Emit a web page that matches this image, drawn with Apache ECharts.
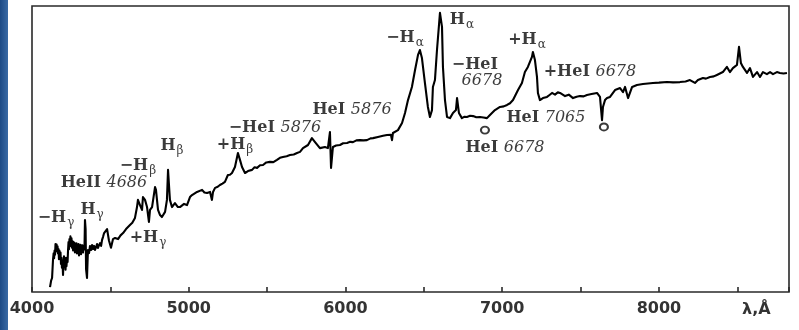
<!DOCTYPE html>
<html>
<head>
<meta charset="utf-8">
<script src="https://cdn.jsdelivr.net/npm/echarts@6/dist/echarts.min.js"></script>
<style>
  html, body { margin: 0; padding: 0; background: #fff; }
  #chart { width: 799px; height: 330px; }
</style>
</head>
<body>
<div id="chart"></div>
<script>
// Spectrum: wavelength (Å) and relative flux
const wavelength = [
  4115, 4122, 4128, 4134, 4138, 4141, 4144, 4147, 4150, 4153, 4157, 4160, 4163, 4166, 4169,
  4172, 4175, 4179, 4182, 4185, 4188, 4191, 4194, 4198, 4201, 4204, 4207, 4211, 4214, 4217,
  4220, 4223, 4227, 4230, 4233, 4236, 4239, 4242, 4245, 4249, 4252, 4255, 4258, 4262, 4265,
  4268, 4271, 4274, 4277, 4281, 4284, 4287, 4290, 4294, 4297, 4300, 4303, 4306, 4310, 4313,
  4316, 4319, 4322, 4325, 4329, 4332, 4335, 4338, 4342, 4345, 4351, 4357, 4364, 4370, 4377,
  4383, 4389, 4396, 4402, 4409, 4415, 4421, 4428, 4434, 4441, 4447, 4453, 4460, 4466, 4479,
  4491, 4504, 4517, 4530, 4542, 4549, 4565, 4581, 4600, 4625, 4640, 4657, 4670, 4676, 4689,
  4702, 4708, 4721, 4734, 4746, 4753, 4766, 4785, 4791, 4804, 4817, 4829, 4849, 4861, 4868,
  4874, 4880, 4893, 4912, 4931, 4944, 4970, 4989, 5008, 5021, 5053, 5085, 5100, 5117, 5136,
  5148, 5155, 5168, 5185, 5199, 5215, 5231, 5240, 5250, 5263, 5276, 5295, 5314, 5327, 5340,
  5359, 5378, 5404, 5420, 5436, 5455, 5474, 5495, 5518, 5540, 5563, 5582, 5601, 5625, 5646,
  5670, 5691, 5710, 5729, 5761, 5786, 5806, 5837, 5869, 5888, 5901, 5908, 5920, 5940, 5965,
  5985, 6010, 6030, 6048, 6070, 6093, 6115, 6137, 6160, 6176, 6207, 6240, 6265, 6290, 6297,
  6303, 6335, 6361, 6380, 6399, 6424, 6444, 6463, 6475, 6488, 6507, 6526, 6539, 6552, 6558,
  6571, 6584, 6603, 6616, 6622, 6635, 6648, 6667, 6686, 6705, 6712, 6724, 6743, 6760, 6775,
  6795, 6814, 6835, 6858, 6880, 6903, 6922, 6954, 6986, 7010, 7031, 7050, 7069, 7101, 7126,
  7145, 7164, 7190, 7196, 7209, 7222, 7228, 7241, 7260, 7286, 7300, 7318, 7337, 7355, 7369,
  7401, 7425, 7452, 7475, 7496, 7520, 7541, 7570, 7605, 7624, 7637, 7643, 7656, 7669, 7688,
  7720, 7752, 7771, 7784, 7803, 7829, 7860, 7898, 7930, 7962, 8000, 8051, 8090, 8134, 8170,
  8198, 8230, 8249, 8281, 8300, 8326, 8350, 8370, 8408, 8434, 8453, 8472, 8498, 8511, 8523,
  8536, 8562, 8581, 8600, 8626, 8645, 8664, 8689, 8709, 8728, 8753, 8772, 8795, 8817
];
const flux = [
  1.7, 4.0, 4.9, 11.2, 13.5, 11.8, 14.5, 13.0, 16.8, 15.0, 16.6, 14.2, 16.0, 13.5, 15.0,
  11.5, 14.5, 12.2, 13.8, 9.8, 12.0, 8.5, 11.0, 6.0, 10.5, 12.5, 8.8, 10.5, 7.8, 12.0,
  9.0, 11.5, 10.5, 14.7, 17.5, 15.0, 18.5, 16.0, 19.5, 17.0, 18.8, 15.5, 17.8, 14.5, 17.5,
  15.0, 17.2, 13.8, 16.8, 14.5, 17.0, 13.5, 16.5, 14.2, 16.8, 12.8, 16.2, 14.0, 16.5, 13.2,
  16.0, 14.5, 16.3, 13.8, 15.8, 14.8, 16.0, 25.2, 22.0, 8.0, 4.9, 14.7, 13.6, 16.1, 14.7,
  16.4, 15.0, 16.1, 14.7, 15.7, 16.8, 15.4, 16.4, 17.1, 16.1, 18.2, 19.2, 20.6, 20.0, 22.0,
  18.0, 15.5, 18.5, 18.9, 19.2, 18.5, 19.8, 20.6, 22.0, 23.4, 24.2, 25.9, 29.7, 32.2, 30.4,
  28.7, 33.2, 32.2, 29.7, 24.5, 28.7, 29.7, 36.7, 35.7, 28.7, 26.9, 26.2, 28.0, 32.2, 42.7,
  37.4, 32.2, 29.7, 31.1, 29.7, 29.7, 30.8, 30.4, 33.2, 33.9, 35.0, 35.7, 34.8, 34.6, 35.0,
  32.2, 35.0, 36.4, 36.8, 37.4, 37.9, 38.5, 38.0, 40.9, 41.0, 41.6, 43.7, 48.6, 46.2, 43.7,
  41.6, 42.3, 42.7, 43.6, 43.4, 44.3, 44.4, 45.3, 45.5, 45.4, 46.2, 46.9, 47.2, 47.5, 47.9,
  48.1, 48.6, 49.0, 50.3, 51.4, 53.8, 52.4, 50.3, 50.7, 50.3, 55.9, 43.4, 50.7, 51.2, 51.4,
  52.0, 52.1, 52.5, 52.4, 53.0, 53.1, 53.0, 53.1, 53.7, 53.8, 54.2, 54.6, 54.9, 55.0, 53.1,
  55.6, 56.6, 59.1, 62.6, 67.1, 71.7, 77.6, 82.9, 84.6, 81.8, 73.1, 64.7, 61.2, 63.6, 71.7,
  74.1, 84.6, 97.6, 92.7, 78.7, 67.1, 61.2, 60.8, 62.6, 63.6, 67.8, 62.6, 60.8, 61.3, 61.2,
  61.6, 61.5, 61.1, 61.2, 61.0, 60.8, 61.9, 63.6, 64.7, 64.9, 65.4, 66.0, 67.1, 70.6, 73.1,
  76.9, 78.7, 82.2, 83.9, 81.1, 75.2, 69.6, 67.1, 67.8, 68.2, 68.8, 69.6, 69.0, 69.8, 69.6,
  68.5, 69.0, 67.8, 68.3, 68.5, 68.4, 68.9, 69.2, 69.6, 68.2, 60.1, 64.7, 67.1, 67.8, 68.2,
  70.6, 71.3, 69.9, 71.7, 67.8, 71.7, 72.4, 72.7, 72.9, 73.1, 73.2, 73.4, 73.3, 73.4, 73.6,
  74.1, 73.1, 74.1, 74.8, 74.6, 75.2, 75.4, 75.9, 76.9, 78.7, 76.9, 78.3, 79.4, 85.7, 80.1,
  78.7, 76.6, 78.3, 75.2, 76.9, 75.2, 76.9, 76.2, 76.9, 76.2, 76.9, 76.6, 76.4, 76.6
];

// Axis tick labels (Å)
const tickValues = [4000, 5000, 6000, 7000, 8000];
const tickLabels = ['4000', '5000', '6000', '7000', '8000'];
const axisUnit = 'λ,Å';

// Line identifications and their anchor points (wavelength, flux)
const lineLabels = [
  '{h|−H}{s|γ}', '{h|H}{s|γ}', '{h|HeII }{n|4686}', '{h|−H}{s|β}', '{h|H}{s|β}',
  '{h|+H}{s|γ}', '{h|+H}{s|β}', '{h|−HeI }{n|5876}', '{h|HeI }{n|5876}', '{h|−H}{s|α}',
  '{h|H}{s|α}', '{h|−HeI}', '{n|6678}', '{h|+H}{s|α}', '{h|+HeI }{n|6678}',
  '{h|HeI }{n|7065}', '{h|HeI }{n|6678}'
];
const lineLabelWavelength = [
  4153, 4383, 4459, 4676, 4893,
  4740, 5295, 5550, 6042, 6380,
  6743, 6826, 6871, 7158, 7560,
  7279, 7018
];
const lineLabelFlux = [
  25.9, 28.7, 38.1, 44.1, 51.0,
  18.9, 51.4, 57.3, 63.6, 88.8,
  95.1, 79.4, 73.8, 88.1, 76.9,
  60.8, 50.3
];

// Absorption markers (small circles)
const markerWavelength = [6890, 7649];
const markerFlux = [56.6, 57.7];

const chart = echarts.init(document.getElementById('chart'), null, { renderer: 'canvas' });

const serif = 'DejaVu Serif';
const ink = '#0a0a0a';

chart.setOption({
  animation: false,
  backgroundColor: '#ffffff',
  grid: {
    left: 32, right: 10, top: 6, bottom: 38,
    show: true, borderColor: '#2a2a2a', borderWidth: 1.6, backgroundColor: 'transparent'
  },
  xAxis: {
    type: 'value',
    min: 4000,
    max: 8830,
    interval: 500,
    axisLine: { show: false },
    axisTick: { show: true, inside: true, length: 5, lineStyle: { color: '#2a2a2a', width: 1.6 } },
    splitLine: { show: false },
    axisLabel: {
      margin: 9,
      color: '#333',
      fontSize: 16,
      fontWeight: 'bold',
      fontFamily: 'DejaVu Sans',
      formatter: v => {
        const i = tickValues.indexOf(v);
        return i >= 0 ? tickLabels[i] : '';
      }
    }
  },
  yAxis: {
    type: 'value',
    min: 0,
    max: 100,
    axisLine: { show: false },
    axisTick: { show: false },
    axisLabel: { show: false },
    splitLine: { show: false }
  },
  graphic: [
    {
      type: 'rect',
      left: 0, top: 0,
      shape: { width: 8, height: 330 },
      style: {
        fill: new echarts.graphic.LinearGradient(0, 0, 1, 0, [
          { offset: 0, color: '#1d4a85' },
          { offset: 1, color: '#3a6aa5' }
        ])
      },
      silent: true
    },
    {
      type: 'text',
      left: 742, top: 302,
      style: {
        text: axisUnit,
        fill: '#333',
        fontSize: 16,
        fontWeight: 'bold',
        fontFamily: 'DejaVu Sans'
      },
      silent: true
    }
  ],
  series: [
    {
      type: 'line',
      data: wavelength.map((w, i) => [w, flux[i]]),
      showSymbol: false,
      lineStyle: { color: '#000', width: 2.1, join: 'round' },
      silent: true,
      z: 3
    },
    {
      type: 'scatter',
      data: markerWavelength.map((w, i) => [w, markerFlux[i]]),
      symbol: 'circle',
      symbolSize: [8, 7],
      itemStyle: { color: '#fff', borderColor: ink, borderWidth: 2 },
      silent: true,
      z: 4
    },
    {
      type: 'scatter',
      symbolSize: 0,
      silent: true,
      z: 5,
      data: lineLabelWavelength.map((w, i) => ({
        value: [w, lineLabelFlux[i]],
        label: { formatter: lineLabels[i] }
      })),
      label: {
        show: true,
        position: 'inside',
        rich: {
          h: { fontFamily: serif, fontWeight: 'bold', fontSize: 16, color: ink, lineHeight: 18 },
          n: { fontFamily: serif, fontStyle: 'italic', fontSize: 16, color: ink, lineHeight: 18 },
          s: { fontFamily: serif, fontSize: 12, color: ink, lineHeight: 12, padding: [10, 0, 0, 1] }
        }
      }
    }
  ]
});
</script>
</body>
</html>
